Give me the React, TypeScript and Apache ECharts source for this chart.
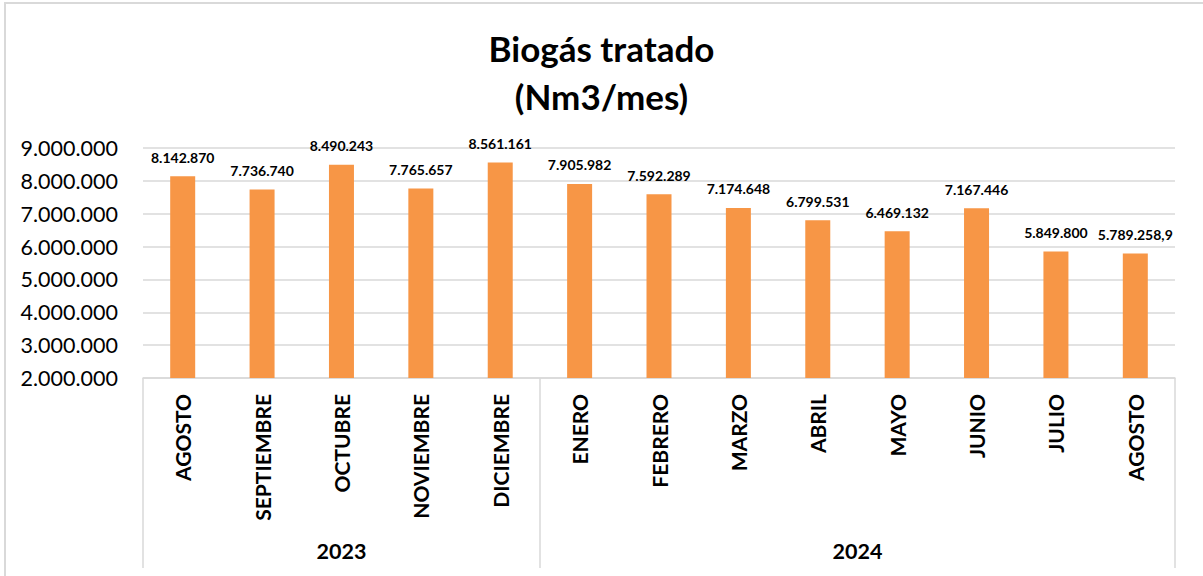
import React, { useEffect, useRef } from "react";
import * as echarts from "echarts";

const months = [
  "AGOSTO", "SEPTIEMBRE", "OCTUBRE", "NOVIEMBRE", "DICIEMBRE",
  "ENERO", "FEBRERO", "MARZO", "ABRIL", "MAYO", "JUNIO", "JULIO", "AGOSTO",
];
const values = [
  8142870, 7736740, 8490243, 7765657, 8561161,
  7905982, 7592289, 7174648, 6799531, 6469132, 7167446, 5849800, 5789258.9,
];
const years = ["2023", "2024"];
const yearCounts = [5, 8];

const fmt = (v: number) => {
  const parts = v.toString().split(".");
  const int = parts[0].replace(/\B(?=(\d{3})+(?!\d))/g, ".");
  return parts[1] ? int + "," + parts[1] : int;
};

export default function App() {
  const ref = useRef<HTMLDivElement>(null);
  useEffect(() => {
    if (!ref.current) return;
    const chart = echarts.init(ref.current, null, { renderer: "svg" });
    const bounds: number[] = [0];
    const centers: number[] = [];
    yearCounts.forEach((c) => {
      const start = bounds[bounds.length - 1];
      centers.push(start + c / 2);
      bounds.push(start + c);
    });
    const font = "Lato";
    chart.setOption({
      animation: false,
      title: {
        text: "Biogás tratado\n(Nm3/mes)",
        left: "center",
        top: 19,
        textStyle: {
          fontFamily: font,
          fontWeight: "bold",
          fontSize: 35,
          lineHeight: 48,
          color: "#000",
        },
      },
      graphic: [
        {
          type: "rect",
          shape: { x: 5, y: 3, width: 1300, height: 700 },
          style: { fill: "none", stroke: "#d9d9d9", lineWidth: 2 },
          silent: true,
        },
      ],
      grid: { left: 143, right: 28, top: 148, bottom: 198 },
      xAxis: [
        {
          type: "category",
          data: months,
          axisLine: { lineStyle: { color: "#d9d9d9", width: 1.5 } },
          axisTick: { show: false },
          axisLabel: {
            rotate: 90,
            interval: 0,
            margin: 16,
            fontFamily: font,
            fontWeight: "bold",
            fontSize: 21,
            color: "#000",
          },
        },
        {
          type: "value",
          position: "bottom",
          offset: 190,
          min: 0,
          max: bounds[bounds.length - 1],
          axisLine: { show: false },
          splitLine: { show: false },
          axisTick: {
            show: true,
            inside: true,
            length: 190,
            customValues: bounds,
            lineStyle: { color: "#d9d9d9", width: 1.5 },
          },
          axisLabel: {
            inside: true,
            margin: 6,
            customValues: centers,
            formatter: (v: number) => {
              const i = centers.findIndex((c) => Math.abs(c - v) < 1e-6);
              return i >= 0 ? years[i] : "";
            },
            fontFamily: font,
            fontWeight: "bold",
            fontSize: 21.5,
            color: "#000",
          },
        },
      ],
      yAxis: {
        type: "value",
        min: 2000000,
        max: 9000000,
        interval: 1000000,
        axisLine: { show: false },
        axisTick: { show: false },
        splitLine: { lineStyle: { color: "#d9d9d9", width: 1.5 } },
        axisLabel: {
          margin: 25,
          formatter: (v: number) => fmt(v),
          fontFamily: font,
          fontSize: 21.5,
          color: "#000",
        },
      },
      series: [
        {
          type: "bar",
          xAxisIndex: 0,
          data: values,
          barWidth: 25,
          itemStyle: { color: "#F79646" },
          label: {
            show: true,
            position: "top",
            distance: 12,
            formatter: (p: any) => fmt(p.value),
            fontFamily: font,
            fontWeight: "bold",
            fontSize: 14,
            color: "#000",
          },
        },
      ],
    });
    return () => chart.dispose();
  }, []);
  return (
    <div
      ref={ref}
      style={{ position: "fixed", left: 0, top: 0, width: 1203, height: 576, background: "#fff" }}
    />
  );
}
